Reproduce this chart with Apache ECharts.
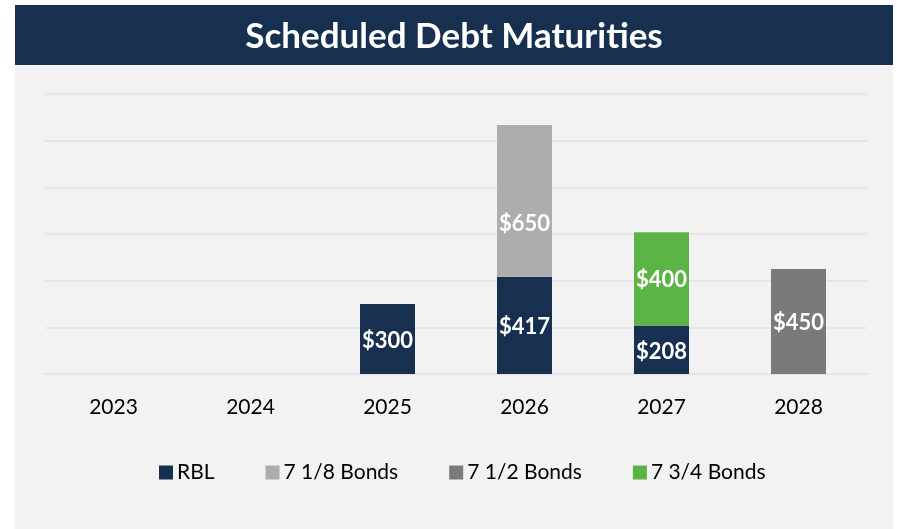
<!DOCTYPE html>
<html><head><meta charset="utf-8">
<script src="https://cdn.jsdelivr.net/npm/echarts@6/dist/echarts.min.js"></script>
<style>html,body{margin:0;padding:0;background:#fff;}#c{width:897px;height:529px;}</style>
</head><body><div id="c"></div>
<script>
const categories = ['2023','2024','2025','2026','2027','2028'];
const rbl = [null, null, 300, 417, 208, null];
const bonds718 = [null, null, null, 650, null, null];
const bonds712 = [null, null, null, null, null, 450];
const bonds734 = [null, null, null, null, 400, null];
const seriesNames = ['RBL','7 1/8 Bonds','7 1/2 Bonds','7 3/4 Bonds'];
const colors = ['#17304f','#adadad','#7a7a7a','#5cb346'];
const FONT = 'Lato';

const chart = echarts.init(document.getElementById('c'), null, {renderer:'canvas'});
const mkLabel = (off) => ({show:true, position:'inside', offset:off, color:'#fff', fontFamily:FONT, fontWeight:'bold', fontSize:22, formatter: p => '$' + p.value});
const mk = (name, data, i, off) => ({name, type:'bar', stack:'t', data, barWidth:55, itemStyle:{color:colors[i]}, label:mkLabel(off)});
chart.setOption({
  animation:false,
  backgroundColor:'#fff',
  graphic:[
    {type:'rect', shape:{x:15,y:65,width:878,height:464}, style:{fill:'#f2f2f2'}, z:-10},
    {type:'rect', shape:{x:15,y:5,width:878,height:60}, style:{fill:'#17304f'}, z:-10},
    {type:'text', x:454, y:37, style:{text:'Scheduled Debt Maturities', fill:'#fff', font:'bold 35px ' + FONT, textAlign:'center', textVerticalAlign:'middle'}}
  ],
  grid:{left:45, right:30, top:94, bottom:155, containLabel:false},
  legend:{bottom:41, left:154, itemWidth:14, itemHeight:14, itemGap:51, icon:'rect',
    textStyle:{fontFamily:FONT, fontSize:21, color:'#000', padding:[0,0,0,-1]},
    data: seriesNames},
  xAxis:{type:'category', data:categories, axisLine:{show:true, lineStyle:{color:'#e6e6e6', width:2}}, axisTick:{show:false},
    axisLabel:{fontFamily:FONT, fontSize:21, color:'#000', margin:23}},
  yAxis:{type:'value', min:0, max:1200, interval:200, axisLabel:{show:false}, axisLine:{show:false}, axisTick:{show:false},
    splitLine:{lineStyle:{color:'#e6e6e6', width:2}}},
  series:[mk(seriesNames[0], rbl, 0, [0,2]), mk(seriesNames[1], bonds718, 1, [0,23]), mk(seriesNames[2], bonds712, 2, [0,1]), mk(seriesNames[3], bonds734, 3, [0,1])]
});
</script></body></html>
